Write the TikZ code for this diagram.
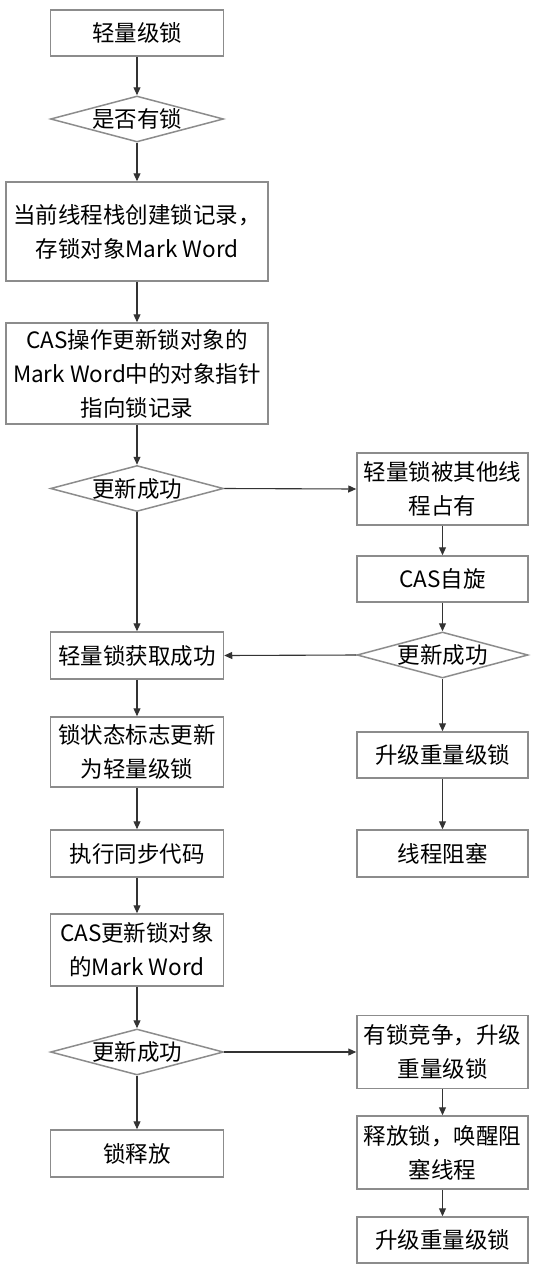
\documentclass[tikz,border=0pt]{standalone}
\usepackage{fontspec}
\setmainfont{Noto Sans CJK SC}
\usetikzlibrary{arrows.meta,shapes.geometric}
\definecolor{boxgray}{HTML}{8C8C8C}
\definecolor{edgegray}{HTML}{333333}
\begin{document}
\begin{tikzpicture}[
    x=1pt,
    y=-1pt,
    flowbox/.style={draw=boxgray, line width=1.5pt, fill=white, align=center, inner sep=0pt, minimum width=173pt, minimum height=46pt},
    widebox/.style={flowbox, minimum width=262pt},
    sidebox/.style={flowbox, minimum width=171pt},
    decision/.style={diamond, draw=boxgray, line width=1.5pt, fill=white, aspect=3.6, inner xsep=-10pt, inner ysep=0pt, minimum width=173pt, minimum height=46pt},
    flowedge/.style={-{Triangle[length=8pt,width=7pt]}, draw=edgegray, line width=1.1pt},
    every node/.style={font=\fontsize{22.5}{34}\selectfont}
  ]
    \useasboundingbox (0,0) rectangle (535,1274);

    % left column
    \node[flowbox] (start) at (137,33) {轻量级锁};
    \node[decision] (haslock) at (137,119) {是否有锁};
    \node[widebox, minimum height=99pt] (record) at (137,231.5) {当前线程栈创建锁记录，\\存锁对象Mark Word};
    \node[widebox, minimum height=101pt] (casptr) at (137,373.5) {CAS操作更新锁对象的\\Mark Word中的对象指针\\指向锁记录};
    \node[decision] (okfirst) at (137,488.5) {更新成功};
    \node[flowbox, minimum height=47pt] (acquired) at (137,655.5) {轻量锁获取成功};
    \node[flowbox, minimum height=70pt] (flag) at (137,752) {锁状态标志更新\\为轻量级锁};
    \node[flowbox, minimum height=47pt] (sync) at (137,853.5) {执行同步代码};
    \node[flowbox, minimum height=72pt] (casback) at (137,950) {CAS更新锁对象\\的Mark Word};
    \node[decision] (okrelease) at (137,1052) {更新成功};
    \node[flowbox, minimum height=47pt] (release) at (137,1153.5) {锁释放};

    % right column
    \node[sidebox, minimum height=72pt] (taken) at (442.5,489) {轻量锁被其他线\\程占有};
    \node[sidebox] (spin) at (442.5,579) {CAS自旋};
    \node[decision, minimum width=171pt] (okspin) at (442.5,655) {更新成功};
    \node[sidebox] (inflate) at (442.5,755) {升级重量级锁};
    \node[sidebox, minimum height=47pt] (blocked) at (442.5,853.5) {线程阻塞};
    \node[sidebox, minimum height=73pt] (contend) at (442.5,1052) {有锁竞争，升级\\重量级锁};
    \node[sidebox, minimum height=73pt] (wake) at (442.5,1152.5) {释放锁，唤醒阻\\塞线程};
    \node[sidebox] (heavy) at (442.5,1240) {升级重量级锁};

    \draw[flowedge] (start) -- (haslock);
    \draw[flowedge] (haslock) -- (record);
    \draw[flowedge] (record) -- (casptr);
    \draw[flowedge] (casptr) -- (okfirst);
    \draw[flowedge] (okfirst.east) -- (taken.west);
    \draw[flowedge] (okfirst) -- (acquired);
    \draw[flowedge] (taken) -- (spin);
    \draw[flowedge] (spin) -- (okspin);
    \draw[flowedge] (okspin.west) -- (acquired.east);
    \draw[flowedge] (okspin) -- (inflate);
    \draw[flowedge] (inflate) -- (blocked);
    \draw[flowedge] (acquired) -- (flag);
    \draw[flowedge] (flag) -- (sync);
    \draw[flowedge] (sync) -- (casback);
    \draw[flowedge] (casback) -- (okrelease);
    \draw[flowedge] (okrelease.east) -- (contend.west);
    \draw[flowedge] (okrelease) -- (release);
    \draw[flowedge] (contend) -- (wake);
    \draw[flowedge] (wake) -- (heavy);
  \end{tikzpicture}
\end{document}
